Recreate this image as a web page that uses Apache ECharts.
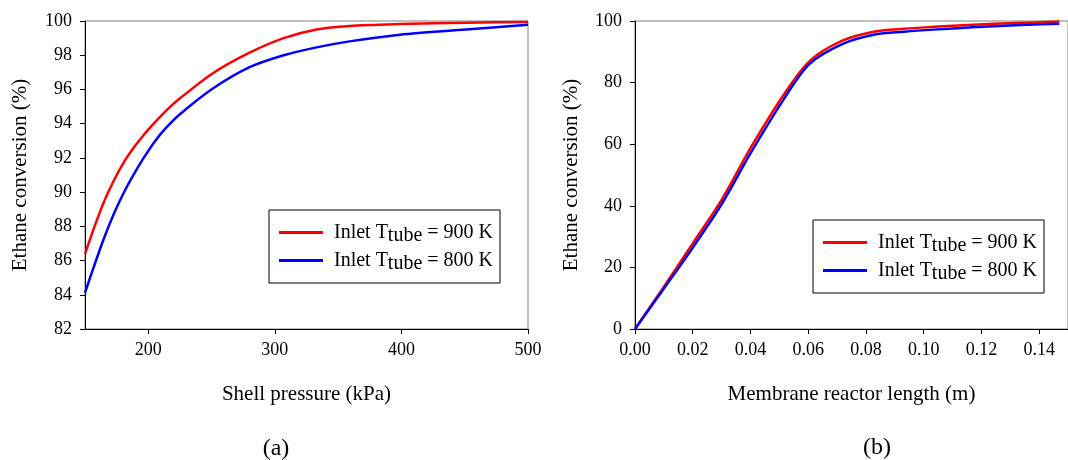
<!DOCTYPE html>
<html><head><meta charset="utf-8">
<script src="https://cdn.jsdelivr.net/npm/echarts@6/dist/echarts.min.js"></script>
<style>html,body{margin:0;padding:0;background:#fff}#c{width:1068px;height:460px}</style>
</head><body><div id="c"></div>
<script>
// (a) Shell pressure (kPa) vs ethane conversion (%)
const pressure = [150,157,165,173,181,189,197,205,214,225,251,280,307,333,359,399,451,500];
const conv900a = [86.38,87.88,89.44,90.71,91.78,92.65,93.4,94.06,94.75,95.48,96.95,98.15,99.0,99.5,99.71,99.82,99.9,99.94];
const conv800a = [84.12,85.64,87.3,88.76,90.02,91.1,92.07,92.95,93.75,94.55,96.05,97.3,98.0,98.46,98.81,99.2,99.5,99.78];
// (b) Membrane reactor length (m) vs ethane conversion (%)
const reactorLength = [0,0.0096,0.02,0.03,0.04,0.0514,0.0604,0.0718,0.0831,0.0932,0.1034,0.117,0.1316,0.147];
const conv900b = [0,13.2,27.8,41.9,58.7,75.9,86.9,93.6,96.6,97.5,98.1,98.8,99.35,99.8];
const conv800b = [0,12.6,26.4,40.5,57.0,74.4,86.0,92.5,95.6,96.5,97.2,97.95,98.6,99.1];
// tick labels
const pressureTicks = [200,300,400,500];
const lengthTicks = [0,0.02,0.04,0.06,0.08,0.10,0.12,0.14];
const seriesNames = ['900 K','800 K'];
const seriesColors = ['#ff0000','#0000ff'];

const FONT = '"Liberation Serif","Times New Roman",serif';
const zip = (xs, ys) => xs.map((x, i) => [x, ys[i]]);

const chart = echarts.init(document.getElementById('c'), null, {renderer: 'canvas'});

const axisLineStyle = {show: true, lineStyle: {color: '#000', width: 1}};
const tickStyle = {show: true, inside: false, length: 5, lineStyle: {color: '#000', width: 1}};
const labelStyle = {fontFamily: FONT, fontSize: 18, color: '#000'};
const nameStyle = {fontFamily: FONT, fontSize: 21, color: '#000'};

const legendRich = {
  a: {fontFamily: FONT, fontSize: 20, lineHeight: 18, color: '#000', padding: [0,0,0,6]},
  s: {fontFamily: FONT, fontSize: 20, lineHeight: 18, color: '#000', padding: [7,0,0,0]},
  b: {fontFamily: FONT, fontSize: 20, lineHeight: 18, color: '#000'}
};
const legendFmt = name => '{a|Inlet T}{s|tube}{b| = ' + name + '}';
const legendBase = {
  orient: 'vertical',
  data: seriesNames,
  icon: 'rect',
  itemWidth: 44,
  itemHeight: 3,
  itemGap: 1,
  borderColor: '#000',
  borderWidth: 1,
  borderRadius: 0,
  backgroundColor: '#fff',
  padding: [9, 7, 9, 10],
  selectedMode: false,
  formatter: legendFmt,
  textStyle: {fontFamily: FONT, fontSize: 20, color: '#000', rich: legendRich}
};

const option = {
  animation: false,
  backgroundColor: '#fff',
  grid: [
    {left: 85, top: 21, width: 443, height: 308, show: true, borderColor: '#808080', borderWidth: 1, backgroundColor: 'transparent', containLabel: false},
    {left: 635, top: 21, width: 442.5, height: 308, show: true, borderColor: '#808080', borderWidth: 1, backgroundColor: 'transparent', containLabel: false}
  ],
  xAxis: [
    {gridIndex: 0, type: 'value', min: 150, max: 500,
     axisLine: axisLineStyle,
     axisTick: Object.assign({}, tickStyle, {customValues: pressureTicks}),
     axisLabel: Object.assign({}, labelStyle, {customValues: pressureTicks, margin: 12}),
     splitLine: {show: false},
     name: 'Shell pressure (kPa)', nameLocation: 'middle', nameGap: 55, nameTextStyle: nameStyle},
    {gridIndex: 1, type: 'value', min: 0, max: 0.15,
     axisLine: axisLineStyle,
     axisTick: Object.assign({}, tickStyle, {customValues: lengthTicks}),
     axisLabel: Object.assign({}, labelStyle, {customValues: lengthTicks, margin: 12, formatter: v => v.toFixed(2)}),
     splitLine: {show: false},
     name: 'Membrane reactor length (m)', nameLocation: 'middle', nameGap: 55, nameTextStyle: nameStyle}
  ],
  yAxis: [
    {gridIndex: 0, type: 'value', min: 82, max: 100, interval: 2,
     axisLine: axisLineStyle, axisTick: tickStyle,
     axisLabel: Object.assign({}, labelStyle, {margin: 13}),
     splitLine: {show: false},
     name: 'Ethane conversion (%)', nameLocation: 'middle', nameGap: 54, nameRotate: 90, nameTextStyle: nameStyle},
    {gridIndex: 1, type: 'value', min: 0, max: 100, interval: 20,
     axisLine: axisLineStyle, axisTick: tickStyle,
     axisLabel: Object.assign({}, labelStyle, {margin: 13}),
     splitLine: {show: false},
     name: 'Ethane conversion (%)', nameLocation: 'middle', nameGap: 53, nameRotate: 90, nameTextStyle: nameStyle}
  ],
  legend: [
    Object.assign({}, legendBase, {left: 269, top: 210}),
    Object.assign({}, legendBase, {left: 813, top: 220})
  ],
  series: [
    {name: seriesNames[0], type: 'line', xAxisIndex: 0, yAxisIndex: 0, data: zip(pressure, conv900a)},
    {name: seriesNames[1], type: 'line', xAxisIndex: 0, yAxisIndex: 0, data: zip(pressure, conv800a)},
    {name: seriesNames[0], type: 'line', xAxisIndex: 1, yAxisIndex: 1, data: zip(reactorLength, conv900b)},
    {name: seriesNames[1], type: 'line', xAxisIndex: 1, yAxisIndex: 1, data: zip(reactorLength, conv800b)}
  ].map((s, i) => Object.assign(s, {
    smooth: 0.3, symbol: 'none', showSymbol: false, clip: true,
    color: seriesColors[i % 2],
    lineStyle: {color: seriesColors[i % 2], width: 2.5}
  })),
  graphic: [
    {type: 'text', style: {text: '(a)', x: 276, y: 449, fontFamily: FONT, fontSize: 24, fill: '#000', align: 'center', verticalAlign: 'middle'}},
    {type: 'text', style: {text: '(b)', x: 877, y: 448, fontFamily: FONT, fontSize: 24, fill: '#000', align: 'center', verticalAlign: 'middle'}}
  ]
};
chart.setOption(option);
</script>
</body></html>
